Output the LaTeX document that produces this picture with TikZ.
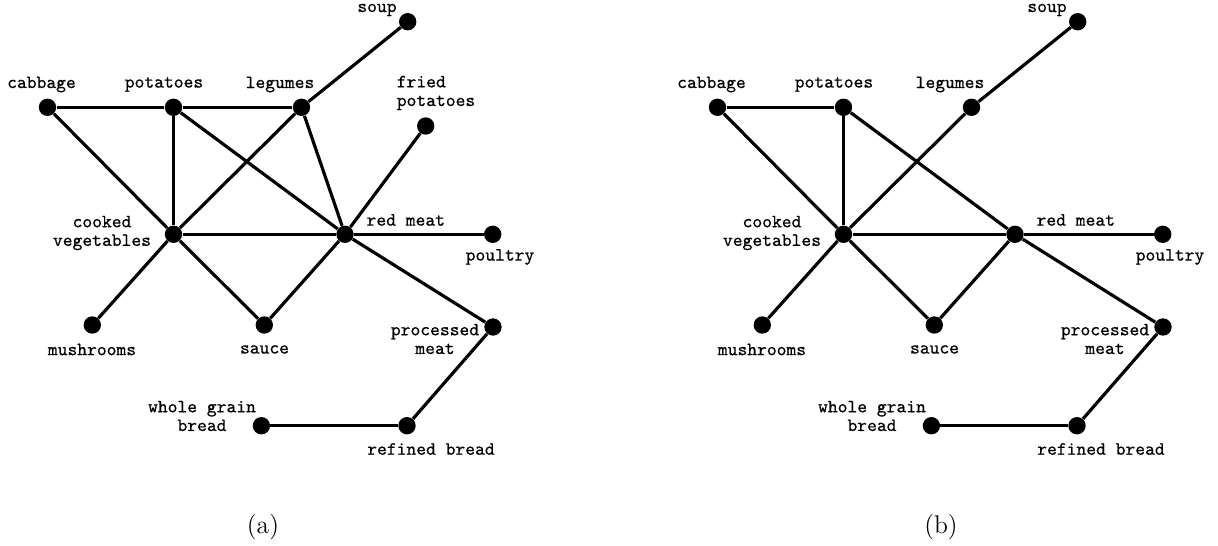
\documentclass[tikz,border=0pt]{standalone}
\usepackage{fontspec}
\setmonofont{Latin Modern Mono}[FakeBold=0.6]
\begin{document}
\begin{tikzpicture}[x=0.5357pt,y=-0.5357pt,
  dot/.style={circle,fill=black,inner sep=0pt,minimum size=9.3pt},
  lbl/.style={font=\ttfamily\fontsize{10}{10}\selectfont,inner sep=0pt,align=center},
  lbll/.style={font=\ttfamily\fontsize{10}{10}\selectfont,inner sep=0pt,align=left},
  edge/.style={line width=1.7pt},
  captext/.style={font=\fontsize{13.7}{16}\selectfont,inner sep=0pt}]
\useasboundingbox (0,0) rectangle (1218,545);
\foreach \p/\dx in {a/0,b/670}{
  \begin{scope}[xshift=\dx*0.5357pt]
  \node[dot] (\p-soup) at (407.7,21.7) {};
  \node[dot] (\p-cab) at (47.5,107.3) {};
  \node[dot] (\p-pot) at (173.5,107.3) {};
  \node[dot] (\p-leg) at (301.5,107.3) {};
  \node[dot] (\p-cv) at (173.5,234.3) {};
  \node[dot] (\p-rm) at (345,234.3) {};
  \node[dot] (\p-pou) at (492.7,234.3) {};
  \node[dot] (\p-mush) at (92.3,325) {};
  \node[dot] (\p-sau) at (264.3,325) {};
  \node[dot] (\p-pm) at (493,327) {};
  \node[dot] (\p-wgb) at (261.4,425.7) {};
  \node[dot] (\p-rb) at (407,425.7) {};
  \node[lbl] (\p-soup-l) at (377,10) {soup};
  \node[lbl] (\p-cab-l) at (41.5,84.5) {cabbage};
  \node[lbl] (\p-pot-l) at (164,84.5) {potatoes};
  \node[lbl] (\p-leg-l) at (280,84.5) {legumes};
  \node[lbl] (\p-cv-l) at (102,233) {cooked\\vegetables};
  \node[lbl] (\p-rm-l) at (405.8,220) {red meat};
  \node[lbl] (\p-pou-l) at (500,257) {poultry};
  \node[lbl] (\p-mush-l) at (92,349.5) {mushrooms};
  \node[lbl] (\p-sau-l) at (264.5,349.5) {sauce};
  \node[lbl] (\p-pm-l) at (435,339) {processed\\meat};
  \node[lbl] (\p-wgb-l) at (202,416) {whole grain\\bread};
  \node[lbl] (\p-rb-l) at (431,449) {refined bread};
  \draw[edge] (\p-cab) -- (\p-pot);
  \draw[edge] (\p-leg) -- (\p-soup);
  \draw[edge] (\p-cab) -- (\p-cv);
  \draw[edge] (\p-pot) -- (\p-cv);
  \draw[edge] (\p-pot) -- (\p-rm);
  \draw[edge] (\p-leg) -- (\p-cv);
  \draw[edge] (\p-cv) -- (\p-rm);
  \draw[edge] (\p-rm) -- (\p-pou);
  \draw[edge] (\p-cv) -- (\p-mush);
  \draw[edge] (\p-cv) -- (\p-sau);
  \draw[edge] (\p-sau) -- (\p-rm);
  \draw[edge] (\p-rm) -- (\p-pm);
  \draw[edge] (\p-pm) -- (\p-rb);
  \draw[edge] (\p-rb) -- (\p-wgb);
  \end{scope}
}
\node[dot] (a-fp) at (425.7,126) {};
\node[lbll] (a-fp-l) at (436,93) {fried\\potatoes};
\draw[edge] (a-pot) -- (a-leg);
\draw[edge] (a-leg) -- (a-rm);
\draw[edge] (a-fp) -- (a-rm);
\node[captext] (capa) at (263,527) {(a)};
\node[captext] (capb) at (941,527) {(b)};
\end{tikzpicture}
\end{document}
